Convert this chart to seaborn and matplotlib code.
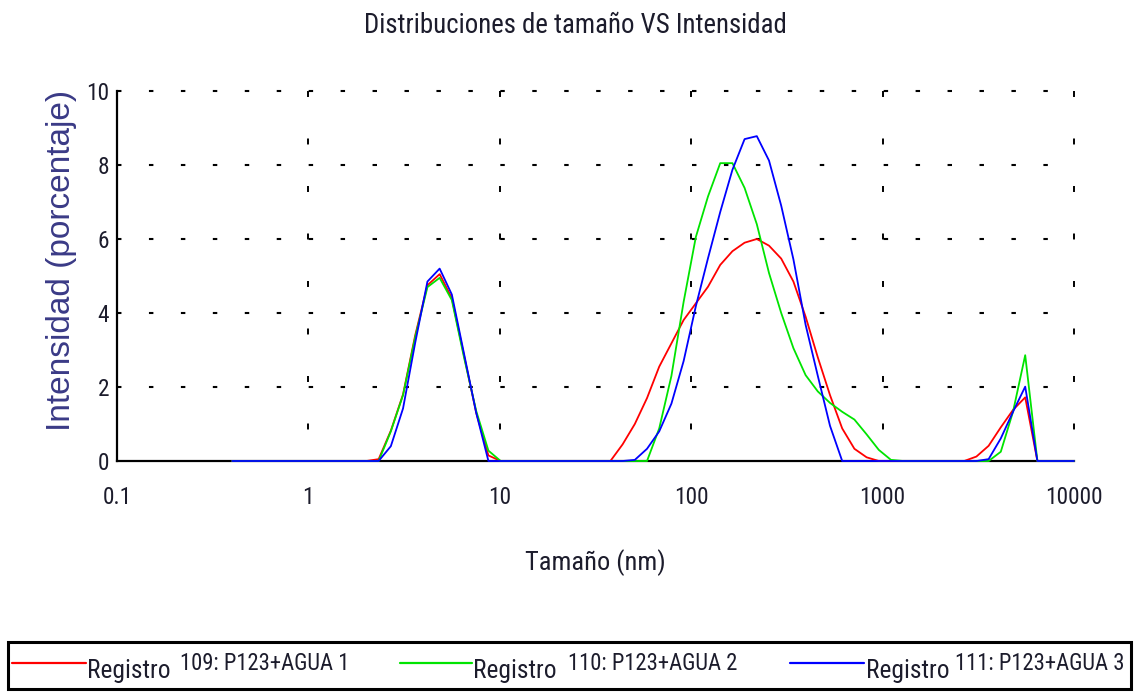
import numpy as np
import pandas as pd
import matplotlib
matplotlib.use("Agg")
import matplotlib.pyplot as plt
from matplotlib import font_manager
from matplotlib.font_manager import FontProperties
from matplotlib.lines import Line2D
from matplotlib.patches import Rectangle
from matplotlib.ticker import FixedLocator, FixedFormatter, LogLocator, NullFormatter
import seaborn as sns

# Size classes (nm) of the DLS intensity distribution
sizes_nm = [
    0.4, 0.4632, 0.5365, 0.6213, 0.7195, 0.8332, 0.9649, 1.117, 1.294, 1.499,
    1.736, 2.01, 2.328, 2.696, 3.122, 3.615, 4.187, 4.849, 5.615, 6.503,
    7.531, 8.721, 10.1, 11.7, 13.54, 15.69, 18.17, 21.04, 24.36, 28.21,
    32.67, 37.84, 43.82, 50.75, 58.77, 68.06, 78.82, 91.28, 105.7, 122.4,
    141.8, 164.2, 190.1, 220.2, 255.0, 295.3, 342.0, 396.1, 458.7, 531.2,
    615.1, 712.4, 825.0, 955.4, 1106, 1281, 1484, 1718, 1990, 2305,
    2669, 3091, 3580, 4145, 4801, 5560, 6439, 7456, 8635, 10000,
]

# Intensity (%) per size class, one list per record
intensity_109 = [
    0, 0, 0, 0, 0, 0, 0, 0, 0, 0,
    0, 0, 0.05, 0.82, 1.8, 3.4, 4.75, 5.05, 4.4, 2.85,
    1.3, 0.15, 0, 0, 0, 0, 0, 0, 0, 0,
    0, 0, 0.45, 1.0, 1.7, 2.55, 3.18, 3.81, 4.26, 4.71,
    5.3, 5.67, 5.9, 6.0, 5.82, 5.47, 4.85, 3.9, 2.8, 1.78,
    0.88, 0.33, 0.1, 0, 0, 0, 0, 0, 0, 0,
    0, 0.12, 0.41, 0.91, 1.38, 1.72, 0, 0, 0, 0,
]
intensity_110 = [
    0, 0, 0, 0, 0, 0, 0, 0, 0, 0,
    0, 0, 0, 0.8, 1.78, 3.35, 4.7, 4.95, 4.35, 2.8,
    1.35, 0.28, 0, 0, 0, 0, 0, 0, 0, 0,
    0, 0, 0, 0, 0, 0.88, 2.3, 4.3, 6.05, 7.15,
    8.05, 8.05, 7.38, 6.4, 5.08, 4.0, 3.05, 2.32, 1.88, 1.57,
    1.33, 1.12, 0.72, 0.3, 0.03, 0, 0, 0, 0, 0,
    0, 0, 0, 0.25, 1.33, 2.86, 0, 0, 0, 0,
]
intensity_111 = [
    0, 0, 0, 0, 0, 0, 0, 0, 0, 0,
    0, 0, 0, 0.4, 1.42, 3.2, 4.85, 5.2, 4.5, 2.9,
    1.3, 0, 0, 0, 0, 0, 0, 0, 0, 0,
    0, 0, 0, 0.03, 0.33, 0.8, 1.55, 2.7, 4.18, 5.48,
    6.73, 7.87, 8.7, 8.78, 8.12, 6.9, 5.45, 3.68, 2.3, 0.95,
    0, 0, 0, 0, 0, 0, 0, 0, 0, 0,
    0, 0, 0.05, 0.61, 1.33, 2.01, 0, 0, 0, 0,
]

record_ids = ["109", "110", "111"]
sample_names = ["P123+AGUA 1", "P123+AGUA 2", "P123+AGUA 3"]
series_colors = ["#ff0000", "#00e400", "#0000ff"]

x_ticks = [0.1, 1, 10, 100, 1000, 10000]
x_tick_labels = ["0.1", "1", "10", "100", "1000", "10000"]
y_ticks = [0, 2, 4, 6, 8, 10]
y_minor_ticks = [1, 3, 5, 7, 9]

title_text = "Distribuciones de tamaño VS Intensidad"
x_label = "Tamaño (nm)"
y_label = "Intensidad (porcentaje)"
legend_prefix = "Registro"

W, H = 1135, 692

sns.set_theme(style="white")
plt.rcParams["font.family"] = ["Liberation Sans", "DejaVu Sans"]
plt.rcParams["lines.scale_dashes"] = False


def pick_narrow_font():
    """Return (FontProperties, size factor) for a condensed sans face."""
    entries = font_manager.fontManager.ttflist
    wanted = ["Liberation Sans Narrow", "Arial Narrow", "Roboto Condensed",
              "Open Sans Condensed", "Noto Sans Condensed", "DejaVu Sans Condensed"]
    for name in wanted:
        for f in entries:
            if f.name == name and f.weight in (400, "normal", "regular") and f.style == "normal":
                return FontProperties(fname=f.fname), 1.0
    for f in entries:
        if (f.stretch in ("condensed", "semi-condensed", 500 - 125)
                or "Condensed" in f.fname or "Narrow" in f.fname) \
                and f.style == "normal" and f.weight in (400, "normal", "regular") \
                and any(k in f.fname for k in ("Sans", "Roboto", "Liberation", "Noto")):
            return FontProperties(fname=f.fname), 1.0
    return FontProperties(family="Liberation Sans"), 0.84


narrow_fp, nscale = pick_narrow_font()


def nfont(size):
    fp = narrow_fp.copy()
    fp.set_size(size * nscale)
    return fp


text_color = "#1c1c2c"

# long-form table for seaborn
frames = []
for rid, vals in zip(record_ids, [intensity_109, intensity_110, intensity_111]):
    frames.append(pd.DataFrame({"size": sizes_nm, "intensity": vals, "record": rid}))
df = pd.concat(frames, ignore_index=True)

fig = plt.figure(figsize=(W / 100, H / 100), dpi=100)
fig.patch.set_facecolor("white")
ax = fig.add_axes([117 / W, 1 - 461 / H, (1074 - 117) / W, (461 - 91) / H])
ax.set_facecolor("white")

sns.lineplot(data=df, x="size", y="intensity", hue="record",
             hue_order=record_ids, palette=series_colors,
             estimator=None, sort=False, linewidth=1.3,
             legend=False, ax=ax, zorder=3)
for ln in ax.lines:
    ln.set_clip_on(False)

ax.set_xscale("log")
ax.set_xlim(x_ticks[0], x_ticks[-1])
ax.set_ylim(y_ticks[0], y_ticks[-1])

# dashed grid: horizontal at even intensities, vertical at each decade
for yv in y_ticks[1:]:
    ax.plot([x_ticks[0], x_ticks[-1]], [yv, yv], color="black", lw=1.5,
            linestyle=(-23.0, (3.2, 19.8)), zorder=1, clip_on=False)
for xv in x_ticks[1:]:
    ax.plot([xv, xv], [y_ticks[-1], y_ticks[0]], color="black", lw=1.4,
            linestyle=(0, (4.3, 29.9)), zorder=1, clip_on=False)

for side in ["top", "right"]:
    ax.spines[side].set_visible(False)
for side in ["left", "bottom"]:
    ax.spines[side].set_color("black")
    ax.spines[side].set_linewidth(1.6)

ax.xaxis.set_major_locator(FixedLocator(x_ticks))
ax.xaxis.set_major_formatter(FixedFormatter(x_tick_labels))
ax.xaxis.set_minor_locator(LogLocator(base=10, subs=np.arange(2, 10), numticks=20))
ax.xaxis.set_minor_formatter(NullFormatter())
ax.yaxis.set_major_locator(FixedLocator(y_ticks))
ax.yaxis.set_minor_locator(FixedLocator(y_minor_ticks))

ax.tick_params(axis="x", which="major", direction="inout", length=8.6, width=1.3,
               color="black", pad=14.0, labelcolor=text_color)
ax.tick_params(axis="x", which="minor", direction="inout", length=5.8, width=1.3,
               color="black")
ax.tick_params(axis="y", which="both", direction="inout", length=6.5, width=1.3,
               color="black", pad=2.2, labelcolor=text_color)
for lab in ax.get_xticklabels() + ax.get_yticklabels():
    lab.set_fontproperties(nfont(16.8))

ax.set_xlabel("")
ax.set_ylabel("")

fig.text(575 / W, 1 - 33 / H, title_text, ha="center", va="baseline",
         fontproperties=nfont(19.4), color=text_color)
fig.text(595.5 / W, 1 - 570 / H, x_label, ha="center", va="baseline",
         fontproperties=nfont(19.0), color=text_color)
fig.text(62 / W, 1 - 260 / H, y_label, ha="center", va="center", rotation=90,
         fontsize=24, family="Liberation Sans", color="#3a3a86")

# legend strip along the bottom
fig.add_artist(Rectangle((8 / W, 1 - 689 / H), 1123 / W, 47 / H,
                         transform=fig.transFigure, fill=False,
                         edgecolor="black", linewidth=2.2))
line_x = [(12, 86), (400, 472), (790, 864)]
prefix_x = [87, 473, 866]
rest_x = [180, 568, 955]
for i, rid in enumerate(record_ids):
    x0, x1 = line_x[i]
    fig.add_artist(Line2D([x0 / W, x1 / W], [1 - 663 / H, 1 - 663 / H],
                          transform=fig.transFigure, color=series_colors[i], lw=1.6))
    fig.text(prefix_x[i] / W, 1 - 678 / H, legend_prefix, ha="left", va="baseline",
             fontproperties=nfont(18.3), color=text_color)
    fig.text(rest_x[i] / W, 1 - 670 / H, f"{rid}: {sample_names[i]}", ha="left",
             va="baseline", fontproperties=nfont(16.3), color=text_color)

fig.savefig("out.png", dpi=100, facecolor="white")
